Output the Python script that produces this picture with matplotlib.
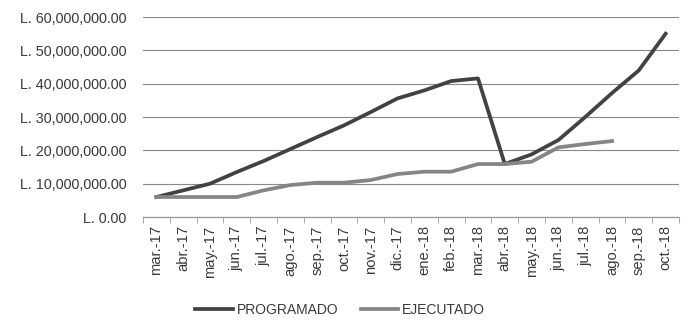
import numpy as np
import matplotlib.pyplot as plt
from matplotlib.ticker import FuncFormatter, FixedLocator

meses = ["mar.-17", "abr.-17", "may.-17", "jun.-17", "jul.-17", "ago.-17",
         "sep.-17", "oct.-17", "nov.-17", "dic.-17", "ene.-18", "feb.-18",
         "mar.-18", "abr.-18", "may.-18", "jun.-18", "jul.-18", "ago.-18",
         "sep.-18", "oct.-18"]

programado = [6.0, 8.0, 10.0, 13.5, 16.8, 20.4, 24.0, 27.5, 31.5, 35.6,
              38.0, 40.8, 41.6, 15.9, 18.8, 23.1, 30.0, 37.2, 44.0, 55.0]

ejecutado = [6.0, 6.0, 6.0, 6.0, 8.0, 9.6, 10.3, 10.3, 11.1, 12.9,
             13.6, 13.6, 15.9, 15.9, 16.6, 20.9, 21.9, 22.8]

programado = np.array(programado) * 1e6
ejecutado = np.array(ejecutado) * 1e6

plt.rcParams['font.family'] = ['Liberation Sans', 'DejaVu Sans']

fig = plt.figure(figsize=(6.89, 3.22), dpi=100)
ax = fig.add_axes([0.2075, 0.326, 0.778, 0.621])

x = np.arange(len(meses))
ax.plot(x, programado, color="#424242", lw=2.7, label="PROGRAMADO",
        solid_joinstyle="round")
ax.plot(np.arange(len(ejecutado)), ejecutado, color="#858585", lw=2.7,
        label="EJECUTADO", solid_joinstyle="round")

ax.set_xlim(-0.5, len(meses) - 0.5)
ax.set_ylim(0, 60e6)
ax.set_yticks(np.arange(0, 60e6 + 1, 10e6))

def fmt_lempiras(v, pos):
    if v == 0:
        return "L. 0.00"
    return "L. {:,.2f}".format(v)

ax.yaxis.set_major_formatter(FuncFormatter(fmt_lempiras))
ax.tick_params(axis="y", length=0, pad=12, labelsize=10.4, labelcolor="#3a3a3a")

ax.set_xticks(x)
ax.set_xticklabels(meses, rotation=90, fontsize=10.6, color="#3a3a3a")
ax.tick_params(axis="x", which="major", length=0, pad=6)
ax.xaxis.set_minor_locator(FixedLocator(np.arange(-0.5, len(meses), 1.0)))
ax.tick_params(axis="x", which="minor", length=4, color="#999999")

ax.grid(axis="y", color="#888888", lw=0.8)
ax.set_axisbelow(True)
for s in ["top", "right", "left"]:
    ax.spines[s].set_visible(False)
ax.spines["bottom"].set_color("#999999")
ax.spines["bottom"].set_linewidth(0.9)

ax.legend(loc="lower center", bbox_to_anchor=(0.368, -0.56), ncol=2,
          frameon=False, fontsize=10, handlelength=2.7, columnspacing=1.6,
          handletextpad=0.3, labelcolor="#3a3a3a")

fig.savefig("out.png", dpi=100)
